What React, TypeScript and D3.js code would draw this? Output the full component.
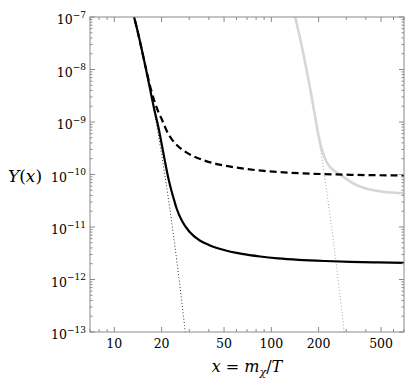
import React from 'react';
import * as d3 from 'd3';

// ---- data ----
const xMajorTicks = [10, 20, 50, 100, 200, 500];
const xMinorTicks = [7, 8, 9, 30, 40, 60, 70, 80, 90, 300, 400, 600, 700];
const yExponents = [-13, -12, -11, -10, -9, -8, -7];

const eqBlack: [number, number][] = [
  [13, 1.38e-7], [14, 5.7e-8], [16, 9.4e-9], [18, 1.52e-9], [20, 2.4e-10],
  [22, 3.8e-11], [24, 5.8e-12], [26, 8.8e-13], [28, 1.33e-13], [29, 5.2e-14],
];
const solidBlack: [number, number][] = [
  [13, 1.38e-7], [14, 5.7e-8], [16, 9.4e-9], [18, 1.7e-9], [19, 8.5e-10], [20, 3.9e-10],
  [21, 1.8e-10], [22, 9.0e-11], [23, 5.2e-11], [24, 3.3e-11], [25, 2.2e-11], [27, 1.3e-11],
  [30, 8.2e-12], [35, 5.53e-12], [40, 4.55e-12], [50, 3.64e-12], [65, 3.07e-12],
  [85, 2.74e-12], [110, 2.53e-12], [150, 2.37e-12], [220, 2.25e-12], [320, 2.17e-12],
  [480, 2.12e-12], [700, 2.08e-12],
];
const dashedBlack: [number, number][] = [
  [13, 1.38e-7], [14, 5.7e-8], [16, 9.6e-9], [17, 4.5e-9], [18, 2.5e-9], [19, 1.6e-9],
  [20, 1.15e-9], [21, 8.1e-10], [22, 6.0e-10], [23, 4.9e-10], [25, 3.64e-10], [28, 2.77e-10],
  [32, 2.22e-10], [38, 1.82e-10], [45, 1.58e-10], [55, 1.41e-10], [70, 1.27e-10],
  [90, 1.17e-10], [120, 1.1e-10], [160, 1.05e-10], [220, 1.016e-10], [300, 9.92e-11],
  [450, 9.7e-11], [700, 9.56e-11],
];
const eqGrey: [number, number][] = [
  [135, 1.87e-7], [140, 1.2e-7], [150, 4.9e-8], [160, 1.98e-8], [170, 8.0e-9],
  [180, 3.2e-9], [190, 1.27e-9], [200, 5.1e-10], [220, 7.9e-11], [240, 1.22e-11],
  [260, 1.86e-12], [280, 2.8e-13], [300, 4.2e-14],
];
const solidGrey: [number, number][] = [
  [135, 1.87e-7], [140, 1.2e-7], [150, 4.9e-8], [160, 1.98e-8], [170, 8.0e-9],
  [180, 3.2e-9], [190, 1.28e-9], [200, 5.4e-10], [219, 2.05e-10], [235, 1.42e-10],
  [260, 1.1e-10], [286, 9.1e-11], [324, 7.1e-11], [366, 5.9e-11], [434, 5.1e-11],
  [515, 4.7e-11], [700, 4.4e-11],
];

const W = 415;
const H = 385;
const M = { left: 90, top: 17, right: 11, bottom: 53 };
const FONT = "'DejaVu Serif', serif";
const AXIS = '#8a8a8a';

export default function App() {
  const pw = W - M.left - M.right;
  const ph = H - M.top - M.bottom;
  const x = d3.scaleLog().domain([7, 700]).range([0, pw]);
  const y = d3.scaleLog().domain([1e-13, 1e-7]).range([ph, 0]);
  const line = d3
    .line<[number, number]>()
    .x((d) => x(d[0]))
    .y((d) => y(d[1]))
    .curve(d3.curveMonotoneX);

  const yMinor: number[] = [];
  for (let e = -13; e < -7; e++) for (let k = 2; k <= 9; k++) yMinor.push(k * Math.pow(10, e));
  const tstyle = { fontFamily: FONT };

  return (
    <svg width={W} height={H} style={{ position: 'absolute', left: 0, top: 0, background: '#fff', fontFamily: FONT }}>
      <defs>
        <clipPath id="plotclip">
          <rect x={0} y={0} width={pw} height={ph} />
        </clipPath>
      </defs>
      <g transform={`translate(${M.left},${M.top})`}>
        <g clipPath="url(#plotclip)" fill="none">
          <path d={line(eqGrey) || ''} stroke="#9a9a9a" strokeWidth={0.9} strokeDasharray="1,2.2" />
          <path d={line(solidGrey) || ''} stroke="#d6d6d6" strokeWidth={2.6} />
          <path d={line(eqBlack) || ''} stroke="#333" strokeWidth={1} strokeDasharray="1,2.2" />
          <path d={line(dashedBlack) || ''} stroke="#000" strokeWidth={2.2} strokeDasharray="7,4" />
          <path d={line(solidBlack) || ''} stroke="#000" strokeWidth={2.2} />
        </g>
        <rect x={0} y={0} width={pw} height={ph} fill="none" stroke={AXIS} strokeWidth={1} />
        {xMajorTicks.map((t) => (
          <g key={'xM' + t}>
            <line x1={x(t)} x2={x(t)} y1={ph} y2={ph - 5} stroke={AXIS} />
            <line x1={x(t)} x2={x(t)} y1={0} y2={5} stroke={AXIS} />
            <text x={x(t)} y={ph + 15.5} textAnchor="middle" fontSize={12.5} fill="#000" style={tstyle}>{t}</text>
          </g>
        ))}
        {xMinorTicks.map((t) => (
          <g key={'xm' + t}>
            <line x1={x(t)} x2={x(t)} y1={ph} y2={ph - 3} stroke={AXIS} />
            <line x1={x(t)} x2={x(t)} y1={0} y2={3} stroke={AXIS} />
          </g>
        ))}
        {yExponents.map((e) => {
          const v = Math.pow(10, e);
          return (
            <g key={'yM' + e}>
              <line x1={0} x2={5} y1={y(v)} y2={y(v)} stroke={AXIS} />
              <line x1={pw} x2={pw - 5} y1={y(v)} y2={y(v)} stroke={AXIS} />
              <text x={-4} y={y(v) + 7} textAnchor="end" fontSize={12.5} fill="#000" style={tstyle}>
                10<tspan dy={-6.5} fontSize={9}>{'\u2212' + Math.abs(e)}</tspan>
              </text>
            </g>
          );
        })}
        {yMinor.map((v, i) => (
          <g key={'ym' + i}>
            <line x1={0} x2={2.5} y1={y(v)} y2={y(v)} stroke={AXIS} />
            <line x1={pw} x2={pw - 2.5} y1={y(v)} y2={y(v)} stroke={AXIS} />
          </g>
        ))}
        <text x={pw / 2} y={355} textAnchor="middle" fontSize={16} fill="#000" style={tstyle}>
          <tspan fontStyle="italic">x</tspan>
          <tspan> = </tspan>
          <tspan fontStyle="italic">m</tspan>
          <tspan fontStyle="italic" fontSize={11} dy={4}>{'\u03C7'}</tspan>
          <tspan dy={-4}>/</tspan>
          <tspan fontStyle="italic">T</tspan>
        </text>
      </g>
      <text x={25} y={M.top + y(1e-10) + 7} textAnchor="middle" fontSize={17} fill="#000" style={tstyle}>
        <tspan fontStyle="italic">Y</tspan>
        <tspan>(</tspan>
        <tspan fontStyle="italic">x</tspan>
        <tspan>)</tspan>
      </text>
    </svg>
  );
}
